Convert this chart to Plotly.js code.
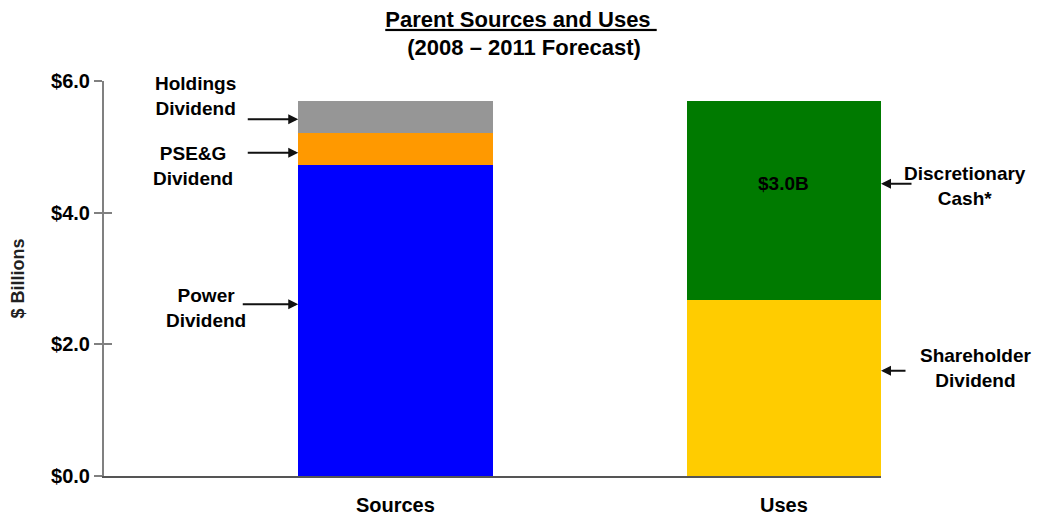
<!DOCTYPE html>
<html>
<head>
<meta charset="utf-8">
<script src="https://cdn.plot.ly/plotly-3.0.1.min.js"></script>
<style>
  html, body { margin: 0; padding: 0; background: #ffffff; }
  #chart { width: 1042px; height: 517px; }
</style>
</head>
<body>
<div id="chart"></div>
<script>
// ---- Data (values in $ billions) ----
const categories = ['Sources', 'Uses'];
const powerDividend = [4.73, 0];
const pseDividend = [0.48, 0];
const holdingsDividend = [0.49, 0];
const shareholderDividend = [0, 2.68];
const discretionaryCash = [0, 3.02];
const yTickValues = [0, 2, 4, 6];
const yTickLabels = ['$0.0', '$2.0', '$4.0', '$6.0'];

const FONT = 'Arial, "Liberation Sans", Helvetica, sans-serif';
const BAR_WIDTH = 0.5;

function barTrace(name, values, color) {
  return {
    type: 'bar',
    name: name,
    x: categories,
    y: values,
    width: BAR_WIDTH,
    marker: { color: color, line: { width: 0 } },
    hoverinfo: 'name+y'
  };
}

const traces = [
  barTrace('Power Dividend', powerDividend, '#0000FF'),
  barTrace('PSE&G Dividend', pseDividend, '#FF9900'),
  barTrace('Holdings Dividend', holdingsDividend, '#969696'),
  barTrace('Shareholder Dividend', shareholderDividend, '#FFCC00'),
  barTrace('Discretionary Cash*', discretionaryCash, '#007A00'),
  // invisible trace on overlay axis to draw the inner half of the crossing ticks
  { type: 'scatter', x: categories, y: [0, 0], yaxis: 'y2', mode: 'none', hoverinfo: 'skip', showlegend: false }
];

const leftEdge = 0 - BAR_WIDTH / 2;
const rightEdge = 1 + BAR_WIDTH / 2;
const labelFont = { family: FONT, size: 19, color: '#000000', weight: 'bold' };

function arrow(x, y, ax) {
  return {
    xref: 'x', yref: 'y', x: x, y: y, ax: ax, ay: 0,
    text: '', showarrow: true, arrowhead: 2, arrowsize: 1, arrowwidth: 2,
    arrowcolor: '#111111'
  };
}
function label(text, xPaper, y) {
  return {
    xref: 'paper', yref: 'y', x: xPaper, y: y, text: text, showarrow: false,
    xanchor: 'center', yanchor: 'middle', align: 'center', font: labelFont
  };
}

const annotations = [
  label('Holdings<br>Dividend', 0.118, 5.77),
  label('PSE&amp;G<br>Dividend', 0.115, 4.71),
  label('Power<br>Dividend', 0.131, 2.55),
  label('Discretionary<br>Cash*', 1.108, 4.40),
  label('Shareholder<br>Dividend', 1.121, 1.64),
  arrow(leftEdge, 5.42, -52),
  arrow(leftEdge, 4.91, -52),
  arrow(leftEdge, 2.61, -57),
  arrow(rightEdge, 4.44, 32),
  arrow(rightEdge, 1.60, 26),
  {
    xref: 'x', yref: 'y', x: categories[1], y: 4.44,
    text: '$' + discretionaryCash[1].toFixed(1) + 'B', showarrow: false,
    font: labelFont
  }
];

const layout = {
  width: 1042,
  height: 517,
  margin: { l: 104, r: 161, t: 81, b: 41, pad: 0 },
  paper_bgcolor: '#ffffff',
  plot_bgcolor: '#ffffff',
  barmode: 'stack',
  showlegend: false,
  font: { family: FONT, color: '#000000' },
  title: {
    text: '<u>Parent Sources and Uses </u><br> (2008 – 2011 Forecast)',
    font: { family: FONT, size: 22, color: '#000000', weight: 'bold' },
    xref: 'container', x: 0.5, xanchor: 'center',
    yref: 'container', y: 0.948, yanchor: 'top'
  },
  xaxis: {
    type: 'category',
    range: [-0.75, 1.25],
    showline: true, linecolor: '#555555', linewidth: 2,
    showgrid: false, zeroline: false,
    ticks: 'outside', ticklen: 10, tickcolor: 'rgba(0,0,0,0)',
    tickfont: { family: FONT, size: 20, color: '#000000', weight: 'bold' },
    fixedrange: true
  },
  yaxis: {
    range: [0, 6],
    tickvals: yTickValues, ticktext: yTickLabels,
    showline: true, linecolor: '#808080', linewidth: 2,
    showgrid: false, zeroline: false,
    ticks: 'outside', ticklen: 8, tickwidth: 2, tickcolor: '#808080',
    tickfont: { family: FONT, size: 20, color: '#000000', weight: 'bold' },
    title: { text: '$ Billions', font: { family: FONT, size: 18, color: '#222222', weight: 'bold' }, standoff: 22 },
    fixedrange: true
  },
  yaxis2: {
    overlaying: 'y', side: 'left', matches: 'y',
    range: [0, 6], tickvals: yTickValues,
    showticklabels: false, showline: false, showgrid: false, zeroline: false,
    ticks: 'inside', ticklen: 8, tickwidth: 2, tickcolor: '#808080',
    fixedrange: true
  },
  annotations: annotations
};

Plotly.newPlot('chart', traces, layout, { displayModeBar: false, staticPlot: true });
</script>
</body>
</html>
